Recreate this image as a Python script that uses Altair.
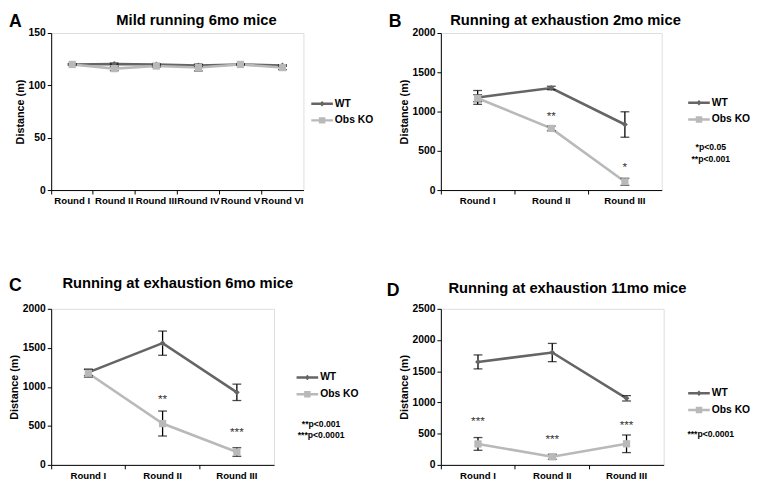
import altair as alt
import pandas as pd

FONT = "Liberation Sans"
WT_COLOR = "#656565"
KO_COLOR = "#b9b9b9"
SERIES = ["WT", "Obs KO"]

# ---- Panel A: Mild running 6mo mice
a_rounds = ["Round I", "Round II", "Round III", "Round IV", "Round V", "Round VI"]
a_wt = [120, 120.5, 120, 119, 120, 119]
a_wt_err = [0.8, 0.8, 0.8, 1.0, 0.5, 0.8]
a_ko = [120, 116, 118.5, 117, 120, 117]
a_ko_err = [0.5, 2.0, 1.0, 3.2, 0.5, 2.0]

# ---- Panel B: Running at exhaustion 2mo mice
b_rounds = ["Round I", "Round II", "Round III"]
b_wt = [1180, 1300, 835]
b_wt_err = [88, 22, 162]
b_ko = [1170, 785, 105]
b_ko_err = [45, 30, 45]
b_star_rounds = ["Round II", "Round III"]
b_star_values = [985, 333]
b_star_labels = ["**", "*"]
b_notes = ["*p<0.05", "**p<0.001"]

# ---- Panel C: Running at exhaustion 6mo mice
c_rounds = ["Round I", "Round II", "Round III"]
c_wt = [1185, 1560, 930]
c_wt_err = [40, 155, 105]
c_ko = [1175, 530, 165]
c_ko_err = [50, 160, 55]
c_star_rounds = ["Round II", "Round III"]
c_star_values = [881, 461]
c_star_labels = ["**", "***"]
c_notes = ["**p<0.001", "***p<0.0001"]

# ---- Panel D: Running at exhaustion 11mo mice
d_rounds = ["Round I", "Round II", "Round III"]
d_wt = [1650, 1800, 1067]
d_wt_err = [112, 146, 43]
d_ko = [336, 130, 338]
d_ko_err = [102, 40, 141]
d_star_rounds = ["Round I", "Round II", "Round III"]
d_star_values = [746, 454, 685]
d_star_labels = ["***", "***", "***"]
d_notes = ["***p<0.0001"]

WT_PATH = "M-1,-0.115H1V0.115H-1Z M-0.26,0L0,-0.26L0.26,0L0,0.26Z"
KO_PATH = "M-1,-0.115H1V0.115H-1Z M-0.3,-0.3H0.3V0.3H-0.3Z"


def panel(letter, title, rounds, wt, wt_err, ko, ko_err, ymax, ystep, width, height,
          star_rounds, star_values, star_labels, notes,
          legend_x, legend_y, note_x, note_y, title_x, title_y, letter_x, letter_y):
    rows = []
    for s, means, errs in (("WT", wt, wt_err), ("Obs KO", ko, ko_err)):
        for r, m, e in zip(rounds, means, errs):
            rows.append({"Round": r, "Series": s, "Distance": m, "lo": m - e, "hi": m + e})
    df = pd.DataFrame(rows)
    base = alt.Chart(df)

    x = alt.X("Round:N", sort=rounds, title=None,
              scale=alt.Scale(type="band", paddingInner=0, paddingOuter=0),
              axis=alt.Axis(labelAngle=0, bandPosition=0, tickSize=4, labelPadding=2,
                            labelFontSize=9.8, labelFontWeight="bold", labelColor="black",
                            labelOverlap=False, labelBound=False, domainColor="black",
                            tickColor="black", grid=False))

    def ychan(field):
        return alt.Y(f"{field}:Q", title="Distance (m)",
                     scale=alt.Scale(domain=[0, ymax], nice=False, zero=True),
                     axis=alt.Axis(values=list(range(0, ymax + 1, ystep)), format="d",
                                   tickSize=4, labelPadding=2, labelFontSize=10.5,
                                   labelFontWeight="bold", labelColor="black",
                                   titleFontSize=11, titleFontWeight="bold", titleColor="black",
                                   titlePadding=3, domainColor="black", tickColor="black",
                                   grid=False))

    color_scale = alt.Scale(domain=SERIES, range=[WT_COLOR, KO_COLOR])
    is_wt = alt.datum.Series == "WT"
    series_color = alt.condition(is_wt, alt.value(WT_COLOR), alt.value(KO_COLOR))

    line = base.mark_line(strokeWidth=2.6).encode(
        x=x, y=ychan("Distance"), detail="Series:N", color=series_color)
    err = base.mark_rule(color="black", strokeWidth=1.3).encode(
        x=x, y=ychan("lo"), y2="hi:Q")
    cap_lo = base.mark_tick(orient="horizontal", size=9, thickness=1.3, color="black").encode(
        x=x, y=ychan("lo"))
    cap_hi = base.mark_tick(orient="horizontal", size=9, thickness=1.3, color="black").encode(
        x=x, y=ychan("hi"))
    pts = base.mark_point(filled=True, opacity=1).encode(
        x=x, y=ychan("Distance"), color=series_color,
        shape=alt.condition(is_wt, alt.value("diamond"), alt.value("square")),
        size=alt.condition(is_wt, alt.value(35), alt.value(55)))

    leg = alt.Legend(title=None, orient="none", legendX=legend_x, legendY=legend_y,
                     symbolSize=484, symbolStrokeWidth=0, labelFont=FONT, labelFontSize=10.5,
                     labelFontWeight="bold", labelColor="black", labelOffset=2,
                     rowPadding=0, padding=0)
    legend_layer = base.mark_point(filled=True, opacity=1, clip=True, size=484).encode(
        x=alt.value(-300), y=alt.value(-300),
        color=alt.Color("Series:N", scale=color_scale, legend=leg),
        shape=alt.Shape("Series:N", scale=alt.Scale(domain=SERIES, range=[WT_PATH, KO_PATH]),
                        legend=leg))

    layers = [line, err, cap_lo, cap_hi, pts, legend_layer]

    if star_rounds:
        sdf = pd.DataFrame({"Round": star_rounds, "Distance": star_values, "label": star_labels})
        stars = alt.Chart(sdf).mark_text(font=FONT, fontSize=12, color="#333333",
                                         baseline="middle", dy=3).encode(
            x=x, y=ychan("Distance"), text="label:N")
        layers.append(stars)

    if notes:
        ndf = pd.DataFrame({"note": ["\n".join(notes)]})
        note_layer = alt.Chart(ndf).mark_text(font=FONT, fontSize=8.8, fontWeight="bold",
                                              color="black", align="center", baseline="top",
                                              lineBreak="\n", lineHeight=12).encode(
            x=alt.value(note_x), y=alt.value(note_y), text="note:N")
        layers.append(note_layer)

    tdf = pd.DataFrame({"t": [title]})
    title_layer = alt.Chart(tdf).mark_text(font=FONT, fontSize=15, fontWeight="bold",
                                           color="black", align="center", baseline="top").encode(
        x=alt.value(title_x), y=alt.value(title_y), text="t:N")
    ldf = pd.DataFrame({"t": [letter]})
    letter_layer = alt.Chart(ldf).mark_text(font=FONT, fontSize=18, fontWeight="bold",
                                            color="black", align="left", baseline="top").encode(
        x=alt.value(letter_x), y=alt.value(letter_y), text="t:N")
    layers += [title_layer, letter_layer]

    return alt.layer(*layers).properties(width=width, height=height)


A = panel("A", "Mild running 6mo mice", a_rounds, a_wt, a_wt_err, a_ko, a_ko_err,
          150, 50, 257, 160, [], [], [], [],
          legend_x=265, legend_y=61, note_x=0, note_y=0, title_x=148, title_y=-20,
          letter_x=-43, letter_y=-20)
B = panel("B", "Running at exhaustion 2mo mice", b_rounds, b_wt, b_wt_err, b_ko, b_ko_err,
          2000, 500, 225, 160, b_star_rounds, b_star_values, b_star_labels, b_notes,
          legend_x=252, legend_y=60, note_x=275, note_y=112, title_x=127, title_y=-20,
          letter_x=-53, letter_y=-20)
C = panel("C", "Running at exhaustion 6mo mice", c_rounds, c_wt, c_wt_err, c_ko, c_ko_err,
          2000, 500, 227, 159, c_star_rounds, c_star_values, c_star_labels, c_notes,
          legend_x=250, legend_y=59, note_x=275, note_y=113, title_x=129, title_y=-33,
          letter_x=-43, letter_y=-32)
D = panel("D", "Running at exhaustion 11mo mice", d_rounds, d_wt, d_wt_err, d_ko, d_ko_err,
          2500, 500, 227, 159, d_star_rounds, d_star_values, d_star_labels, d_notes,
          legend_x=252, legend_y=75, note_x=275, note_y=124, title_x=129, title_y=-28,
          letter_x=-55, letter_y=-27)


def resolved(ch):
    return ch.resolve_scale(x="independent", y="independent", color="independent",
                            shape="independent").resolve_legend(color="independent",
                                                                 shape="independent")


row1 = resolved(alt.hconcat(A, B, spacing=140, bounds="flush"))
row2 = resolved(alt.hconcat(C, D, spacing=170, bounds="flush"))
chart = resolved(alt.vconcat(row1, row2, spacing=281, bounds="flush")).properties(
    padding=0
).configure_view(stroke=None).configure(font=FONT)

chart.save("out.html", embed_options={"renderer": "svg", "actions": False})
